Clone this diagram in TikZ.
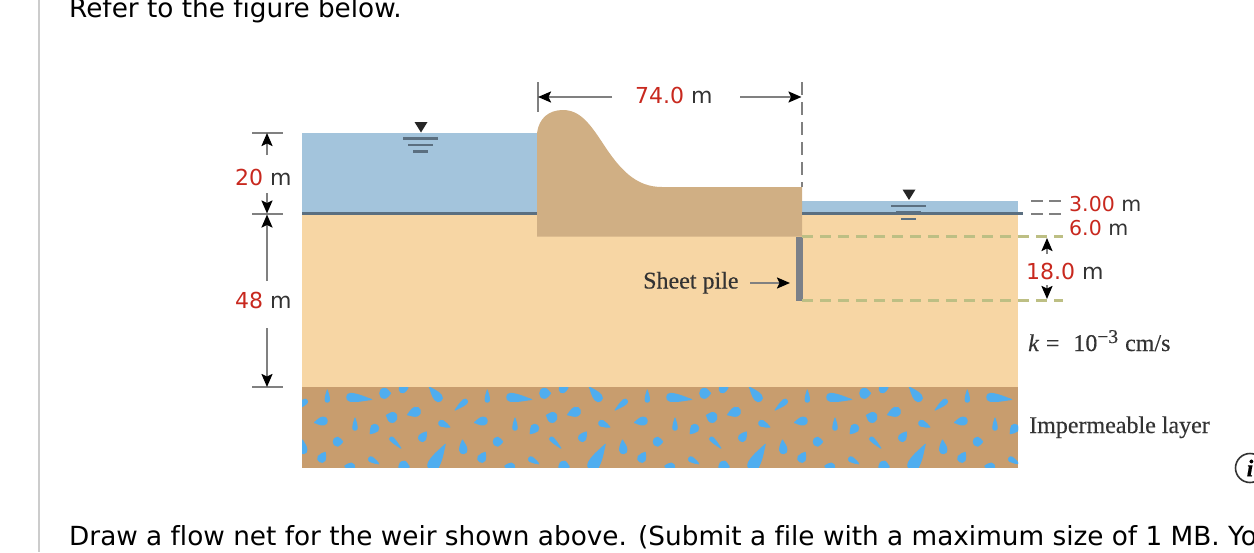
\documentclass[tikz, border = 0pt]{standalone}
\usepackage{fontspec}
\setmainfont[Ligatures = NoCommon]{DejaVu Sans}
\newfontfamily\figserif[FakeBold = 0.3]{Liberation Serif}
\usetikzlibrary{arrows.meta}

\definecolor{waterblue}{HTML}{A3C4DC}
\definecolor{soilsand}{HTML}{F7D6A4}
\definecolor{weirtan}{HTML}{D0AF84}
\definecolor{rocktan}{HTML}{C89D6E}
\definecolor{speckblue}{HTML}{4FADEF}
\definecolor{dimred}{HTML}{C8281E}
\definecolor{dimgray}{HTML}{333333}
\definecolor{levelgreen}{HTML}{BDBF84}
\definecolor{pilegray}{HTML}{7B8088}
\definecolor{linegray}{HTML}{808080}
\definecolor{barslate}{HTML}{5B6F80}

\tikzset{
	dim/.style = {draw = linegray, line width = 2, -{Stealth[length = 13, width = 11, inset = 2.5, black]}},
	tick/.style = {draw = linegray, line width = 2},
	level/.style = {draw = levelgreen, line width = 2.6, dash pattern = on 10.5 off 7.5},
	stub/.style = {draw = linegray, line width = 2.4},
	bar/.style = {draw = barslate, line width = 2.4},
	speck/.style = {fill = speckblue, draw = speckblue, line width = 1, line join = round},
	value/.style = {anchor = base west, inner sep = 0, font = \fontsize{22}{22}\selectfont},
	smallvalue/.style = {anchor = base west, inner sep = 0, font = \fontsize{20.5}{21}\selectfont},
	question/.style = {anchor = base west, inner sep = 0, text = black, font = \fontsize{26.3}{27}\selectfont},
	printed/.style = {anchor = base west, inner sep = 0, text = dimgray, font = \figserif\fontsize{24}{24}\selectfont}
}

\begin{document}
\begin{tikzpicture}[x = 1pt, y = -1pt]

	% Definition

	\def\amount#1#2{\textcolor{dimred}{#1} \textcolor{dimgray}{#2}}
	\def\watermark#1#2{
		\fill [black!85] (#1 - 6.5, #2) -- (#1 + 6.5, #2) -- (#1, #2 + 10.5) -- cycle;
		\draw [bar] (#1 - 18, #2 + 16.5) -- (#1 + 17, #2 + 16.5);
		\draw [bar] (#1 - 13, #2 + 23) -- (#1 + 12, #2 + 23);
		\draw [bar] (#1 - 8, #2 + 29.5) -- (#1 + 7, #2 + 29.5);
	}

	\useasboundingbox (0, 0) rectangle (1254, 552);
	\clip (0, 0) rectangle (1254, 552);

	% Page text

	\coordinate (ruleTop) at (39, 0);
	\coordinate (ruleBottom) at (39, 552);
	\draw [black!20, line width = 2] (ruleTop) -- (ruleBottom);
	\node [question] (intro) at (69, 17) {Refer to the figure below.};
	\node [question] (task) at (69, 545) {Draw a flow net for the weir shown above. (Submit a file with a maximum size of 1 MB. Yo};
	\node [circle, draw = black!80, line width = 1.6, minimum size = 29, inner sep = 0] (info) at (1250, 468) {\figserif\bfseries\itshape\fontsize{24}{24}\selectfont i};

	% Soil, water and weir

	\fill [soilsand] (302, 214) rectangle (1018, 387);
	\fill [waterblue] (302, 133) rectangle (537, 214);
	\fill [waterblue] (802, 201) rectangle (1018, 214);
	\fill [weirtan] (537, 236.5) -- (537, 133) .. controls (539, 118) and (549, 110) .. (563, 110)
		.. controls (580, 110) and (590, 124) .. (602, 142)
		.. controls (620, 170) and (636, 187) .. (662, 187) -- (802, 187) -- (802, 236.5) -- cycle;
	\draw [bar] (302, 213.5) -- (537, 213.5);
	\draw [bar] (802, 213.5) -- (1023, 213.5);
	\watermark{421}{122}
	\watermark{909}{189.5}

	% Impermeable layer, the specks repeat every 160

	\fill [rocktan] (302, 387) rectangle (1018, 467.5);
	\begin{scope}
		\clip (302, 387) rectangle (1018, 467.5);
		\foreach \tileX in {302, 462, 622, 782, 942}
			\foreach \spX / \spY / \spA / \spR / \spL in {
				25.3/13/90/2.2/10, 48.7/10.3/-6/4/21, 82.7/6.3/0/5/6, 100.7/2.3/15/3.5/5.5,
				136.3/10.7/130/4/14, 3/14.7/220/2.5/13, 21.3/34/190/4/9, 53/41/90/2.2/10,
				72.7/41.3/230/4/7, 90/30.3/160/5/6, 114/24.7/200/4.5/9, 139.7/36.3/-25/3/9,
				1.3/63/95/3.7/10, 19.7/71.3/60/4/7, 35.7/54.7/0/4.5/5, 89.7/52/-45/2/13,
				120.3/50.7/55/3.8/7, 131.3/78/60/5.5/24, 48.7/80/170/4/6, 69/72.3/-30/2.5/9,
				102.3/79.7/0/5.5/5}
				\filldraw [speck, shift = {(\tileX + \spX, 387 + \spY)}, rotate = \spA]
					(0, \spR) .. controls (\spL * 0.4, \spR) and (\spL * 0.75, \spR * 0.25) .. (\spL, 0)
					.. controls (\spL * 0.75, -\spR * 0.25) and (\spL * 0.4, -\spR) .. (0, -\spR)
					.. controls (-\spR * 1.33, -\spR) and (-\spR * 1.33, \spR) .. (0, \spR) -- cycle;
	\end{scope}

	% Sheet pile and levels

	\fill [pilegray] (796, 236.5) rectangle (802.5, 301);
	\coordinate (upperStart) at (802, 236.5);
	\coordinate (upperEnd) at (1063, 236.5);
	\coordinate (lowerStart) at (802, 300.5);
	\coordinate (lowerEnd) at (1063, 300.5);
	\draw [level] (upperStart) -- (upperEnd);
	\draw [level] (lowerStart) -- (lowerEnd);
	\node [printed] (pileLabel) at (643, 288.5) {Sheet pile};
	\coordinate (pileTail) at (750, 283);
	\coordinate (pileTip) at (790, 283);
	\draw [dim] (pileTail) -- (pileTip);

	% Width of the weir

	\coordinate (widthLeftTop) at (538, 82);
	\coordinate (widthLeftBottom) at (538, 112);
	\coordinate (widthRightTop) at (801.5, 82);
	\coordinate (widthRightBottom) at (801.5, 187);
	\coordinate (widthLeftTip) at (538, 97);
	\coordinate (widthRightTip) at (801.5, 97);
	\draw [tick] (widthLeftTop) -- (widthLeftBottom);
	\draw [tick, dash pattern = on 13 off 7] (widthRightTop) -- (widthRightBottom);
	\node [value] (widthLabel) at (635, 103) {\amount{74.0}{m}};
	\draw [dim] (612, 97) coordinate (widthLeftTail) -- (widthLeftTip);
	\draw [dim] (740, 97) coordinate (widthRightTail) -- (widthRightTip);

	% Left dimensions

	\coordinate (waterTopL) at (252, 133);
	\coordinate (waterTopR) at (283, 133);
	\coordinate (groundL) at (252, 214);
	\coordinate (groundR) at (283, 214);
	\coordinate (rockL) at (252, 387);
	\coordinate (rockR) at (283, 387);
	\draw [tick] (waterTopL) -- (waterTopR);
	\draw [tick] (groundL) -- (groundR);
	\draw [tick] (rockL) -- (rockR);
	\node [value] (waterLabel) at (235, 185) {\amount{20}{m}};
	\node [value] (soilLabel) at (235, 308.5) {\amount{48}{m}};
	\draw [dim] (267, 155) coordinate (waterUp) -- (267, 133) coordinate (waterUpTip);
	\draw [dim] (267, 193) coordinate (waterDown) -- (267, 213.5) coordinate (waterDownTip);
	\draw [dim] (267, 281) coordinate (soilUp) -- (267, 214.5) coordinate (soilUpTip);
	\draw [dim] (267, 328) coordinate (soilDown) -- (267, 387) coordinate (soilDownTip);

	% Right dimensions

	\draw [stub, dash pattern = on 12 off 6] (1031, 201) coordinate (tailTopL) -- (1063, 201) coordinate (tailTopR);
	\draw [stub, dash pattern = on 12 off 6] (1031, 214) coordinate (tailLowL) -- (1063, 214) coordinate (tailLowR);
	\node [smallvalue] (tailLabel) at (1069, 211) {\amount{3.00}{m}};
	\node [smallvalue] (depthLabel) at (1069, 235) {\amount{6.0}{m}};
	\node [value] (pileDepthLabel) at (1026, 279.5) {\amount{18.0}{m}};
	\draw [dim] (1047, 254) coordinate (pileUp) -- (1047, 238) coordinate (pileUpTip);
	\draw [dim] (1047, 285) coordinate (pileDown) -- (1047, 299) coordinate (pileDownTip);
	\node [printed] (permLabel) at (1028, 351) {{\itshape k}\kern 7pt=\kern 14pt 10\raisebox{8pt}{\fontsize{19.5}{20}\selectfont\char"2212 3}\kern 7pt cm/s};
	\node [printed] (rockLabel) at (1029, 433) {Impermeable layer};

\end{tikzpicture}
\end{document}
